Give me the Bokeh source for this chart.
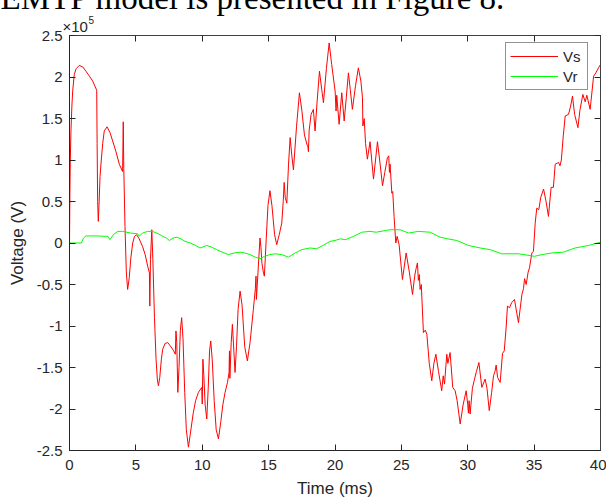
from bokeh.plotting import figure
from bokeh.models import (Legend, LegendItem, FixedTicker, LinearAxis, Range1d,
                          ColumnDataSource, CustomLabelingPolicy)
from bokeh.core.properties import value
from bokeh.embed import file_html
from bokeh.resources import INLINE

# ---------------- data (Voltage in units of 1e5 V, time in ms) ----------------
vs_t = [0.00, 0.03, 0.06, 0.11, 0.18, 0.24, 0.36, 0.50, 0.74, 1.00, 1.24, 1.50, 1.75, 2.05,
        2.08, 2.12, 2.17, 2.22, 2.30, 2.37, 2.50, 2.62, 2.83, 3.05, 3.25, 3.50, 3.75, 4.00,
        4.05, 4.09, 4.18, 4.28, 4.38, 4.50, 4.62, 4.76, 4.90, 5.05, 5.25, 5.50, 5.70, 5.89,
        6.02, 6.05, 6.10, 6.20, 6.28, 6.40, 6.52, 6.62, 6.70, 6.80, 6.92, 7.02, 7.20, 7.40,
        7.60, 7.85, 7.97, 8.02, 8.08, 8.16, 8.25, 8.35, 8.45, 8.55, 8.68, 8.80, 8.96, 9.10,
        9.33, 9.50, 9.71, 9.96, 10.00, 10.05, 10.12, 10.22, 10.34, 10.45, 10.55, 10.64, 10.75,
        10.90, 11.05, 11.22, 11.40, 11.55, 11.72, 11.90, 12.02, 12.05, 12.08, 12.18, 12.27,
        12.38, 12.47, 12.58, 12.70, 12.85, 13.00, 13.20, 13.40, 13.60, 13.85, 14.00, 14.05,
        14.08, 14.20, 14.35, 14.42, 14.50, 14.60, 14.68, 14.82, 14.95, 15.10, 15.25, 15.45,
        15.61, 15.80, 15.99, 16.10, 16.17, 16.25, 16.37, 16.50, 16.62, 16.75, 16.87, 17.10,
        17.32, 17.50, 17.70, 17.90, 17.95, 18.00, 18.05, 18.20, 18.37, 18.50, 18.65, 18.83,
        19.00, 19.13, 19.35, 19.56, 19.75, 20.01, 20.08, 20.13, 20.31, 20.51, 20.69, 20.85,
        21.01, 21.15, 21.31, 21.55, 21.76, 21.95, 22.07, 22.10, 22.20, 22.30, 22.44, 22.64,
        22.90, 23.20, 23.40, 23.58, 23.75, 23.95, 24.05, 24.10, 24.15, 24.28, 24.35, 24.45,
        24.58, 24.68, 24.83, 25.08, 25.36, 25.60, 25.84, 26.00, 26.09, 26.21, 26.28, 26.35,
        26.41, 26.50, 26.66, 26.80, 26.92, 27.10, 27.29, 27.45, 27.60, 27.80, 28.04, 28.15,
        28.25, 28.42, 28.50, 28.67, 28.87, 29.05, 29.20, 29.43, 29.65, 29.88, 30.00, 30.05,
        30.10, 30.18, 30.35, 30.51, 30.65, 30.84, 31.06, 31.31, 31.45, 31.62, 31.80, 31.94,
        32.05, 32.14, 32.25, 32.44, 32.62, 32.75, 32.90, 32.99, 33.15, 33.30, 33.52, 33.70,
        33.82, 34.08, 34.20, 34.28, 34.40, 34.55, 34.65, 34.83, 34.95, 35.08, 35.20, 35.35,
        35.50, 35.71, 35.90, 36.08, 36.28, 36.45, 36.59, 36.84, 36.95, 37.05, 37.20, 37.34,
        37.59, 37.75, 37.89, 38.05, 38.30, 38.45, 38.67, 38.85, 38.97, 39.22, 39.48, 39.65,
        39.85, 40.00]
vs_v = [0.00, 0.60, 1.00, 1.35, 1.65, 1.83, 2.03, 2.10, 2.14, 2.12, 2.07, 2.01, 1.95, 1.84,
        1.20, 0.50, 0.26, 0.45, 0.80, 0.95, 1.20, 1.35, 1.40, 1.33, 1.23, 1.10, 0.95, 0.86,
        1.46, 0.90, 0.20, -0.35, -0.56, -0.42, -0.18, 0.00, 0.08, 0.10, 0.05, -0.04, -0.14, -0.28,
        -0.36, -0.76, -0.20, 0.16, -0.20, -0.90, -1.40, -1.65, -1.72, -1.62, -1.40, -1.28, -1.21, -1.20,
        -1.24, -1.30, -1.34, -1.06, -1.20, -1.80, -1.50, -1.05, -0.90, -1.15, -1.80, -2.25, -2.46, -2.30,
        -2.04, -1.90, -1.80, -1.74, -1.94, -1.40, -1.60, -1.95, -2.12, -1.75, -1.30, -1.18, -1.40,
        -1.90, -2.25, -2.36, -2.15, -1.95, -1.80, -1.68, -1.56, -1.30, -1.63, -1.20, -0.98,
        -1.30, -1.56, -1.25, -0.80, -0.58, -0.75, -1.25, -1.42, -1.20, -0.80, -0.55, -0.40,
        -0.68, -0.35, 0.06, -0.05, -0.25, -0.35, -0.40, 0.05, 0.45, 0.63, 0.45, 0.10,
        -0.02, 0.10, 0.24, 0.50, 0.73, 0.55, 0.48, 0.95, 1.27, 1.05, 0.88, 1.40,
        1.81, 1.60, 1.30, 1.18, 1.17, 1.10, 1.35, 1.55, 1.61, 1.35, 1.70, 2.07,
        1.85, 1.69, 2.10, 2.41, 2.15, 1.83, 1.59, 1.78, 1.43, 1.81, 1.47, 1.75,
        2.05, 1.85, 1.61, 1.90, 2.11, 1.95, 1.75, 1.41, 1.50, 1.20, 1.01, 1.22,
        0.77, 1.22, 0.95, 0.69, 0.85, 1.03, 1.05, 0.85, 0.95, 0.60, 0.62, 0.32,
        0.00, 0.08, -0.02, -0.44, -0.12, -0.35, -0.62, -0.40, -0.32, -0.24, -0.45, -0.38,
        -0.56, -0.50, -1.08, -1.05, -1.10, -1.45, -1.66, -1.45, -1.34, -1.55, -1.78, -1.60,
        -1.70, -1.34, -1.45, -1.32, -1.74, -1.78, -1.90, -2.18, -1.95, -1.78, -1.95, -2.05,
        -1.90, -2.06, -1.75, -1.64, -1.55, -1.44, -1.74, -1.64, -1.75, -2.02, -1.80, -1.60,
        -1.55, -1.47, -1.62, -1.68, -1.33, -1.30, -1.00, -0.76, -0.78, -0.72, -0.68, -0.85,
        -0.96, -0.62, -0.55, -0.43, -0.50, -0.35, -0.30, -0.12, -0.10, 0.24, 0.42, 0.40,
        0.55, 0.65, 0.50, 0.32, 0.67, 0.67, 0.95, 0.97, 0.93, 1.00, 1.30, 1.53,
        1.55, 1.65, 1.77, 1.55, 1.39, 1.60, 1.79, 1.70, 1.78, 1.61, 2.01, 2.05,
        2.11, 2.15]

vr_t = [0.00, 0.90, 1.05, 1.24, 2.00, 2.90, 3.05, 3.30, 3.63, 4.00, 4.60, 5.14, 5.25, 5.50,
        5.89, 6.25, 6.70, 7.02, 7.30, 7.52, 7.80, 8.08, 8.40, 8.70, 9.10, 9.50, 9.83, 10.34,
        10.70, 11.09, 11.50, 11.97, 12.40, 12.85, 13.20, 13.60, 14.00, 14.35, 14.70, 15.10,
        15.49, 16.00, 16.49, 17.00, 17.50, 18.12, 18.60, 19.10, 19.63, 20.00, 20.39, 20.80,
        21.40, 22.02, 22.64, 23.10, 23.78, 24.15, 24.91, 25.54, 26.28, 27.17, 27.92, 28.50,
        29.18, 30.06, 30.94, 31.69, 32.57, 33.82, 35.03, 35.60, 36.33, 37.20, 38.09, 39.10,
        40.00]
vr_v = [0.00, 0.00, 0.06, 0.085, 0.085, 0.08, 0.04, 0.10, 0.14, 0.14, 0.12, 0.11, 0.08, 0.12,
        0.14, 0.14, 0.11, 0.08, 0.06, 0.03, 0.06, 0.07, 0.05, 0.02, 0.00, -0.03, -0.06, -0.03,
        -0.05, -0.08, -0.11, -0.14, -0.12, -0.11, -0.12, -0.14, -0.17, -0.19, -0.16, -0.14,
        -0.13, -0.14, -0.17, -0.12, -0.08, -0.06, -0.07, -0.03, 0.02, 0.03, 0.05, 0.04,
        0.08, 0.13, 0.14, 0.13, 0.15, 0.16, 0.16, 0.12, 0.14, 0.13, 0.07, 0.05,
        0.03, -0.03, -0.06, -0.08, -0.13, -0.13, -0.16, -0.14, -0.12, -0.11, -0.06, -0.03,
        0.01]

x_ticks = [0, 5, 10, 15, 20, 25, 30, 35, 40]
y_ticks = [-2.5, -2, -1.5, -1, -0.5, 0, 0.5, 1, 1.5, 2, 2.5]
y_tick_labels = ["-2.5", "-2", "-1.5", "-1", "-0.5", "0", "0.5", "1", "1.5", "2", "2.5"]
series_names = ["Vs", "Vr"]
x_label = "Time (ms)"
y_label = "Voltage (V)"
exp_base = "\u00d710"
exp_power = "5"
caption = "EMTP model is presented in Figure 8."

TXT = "#262626"
FONT = "Liberation Sans"
X0, X1, Y0, Y1 = 0, 40, -2.5, 2.5

p = figure(width=606, height=500, x_range=Range1d(X0, X1), y_range=Range1d(Y0, Y1),
           output_backend="svg", toolbar_location=None, title=None,
           min_border_left=69, min_border_right=6, min_border_top=35, min_border_bottom=48,
           background_fill_color="white", border_fill_color="white")
p.styles = {"position": "absolute", "left": "0px", "top": "0px"}
p.grid.visible = False
p.outline_line_color = "#404040"
p.outline_line_width = 1

xa = p.xaxis[0]
xa.ticker = FixedTicker(ticks=x_ticks)
xa.axis_label = x_label
ya = p.yaxis[0]
ya.ticker = FixedTicker(ticks=y_ticks)
ya.major_label_overrides = {t: l for t, l in zip(y_ticks, y_tick_labels)}
ya.axis_label = y_label

for ax in (xa, ya):
    ax.major_tick_in = 6
    ax.major_tick_out = 0
    ax.minor_tick_in = 0
    ax.minor_tick_out = 0
    ax.axis_line_color = TXT
    ax.major_tick_line_color = TXT
    ax.major_label_text_font = FONT
    ax.major_label_text_font_size = "15px"
    ax.major_label_text_color = TXT
    ax.axis_label_text_font = FONT
    ax.axis_label_text_font_size = "17px"
    ax.axis_label_text_font_style = "normal"
    ax.axis_label_text_color = TXT
xa.major_label_standoff = 9
xa.axis_label_standoff = 6
ya.major_label_standoff = 7
ya.axis_label_standoff = 7

# box ticks on the top and right sides, with no labels
no_labels = CustomLabelingPolicy(code="return []")
for ticks, side in ((x_ticks, "above"), (y_ticks, "right")):
    ax = LinearAxis(ticker=FixedTicker(ticks=ticks), major_tick_in=6, major_tick_out=0,
                    minor_tick_in=0, minor_tick_out=0, major_label_policy=no_labels,
                    major_label_text_font_size="0px", major_label_standoff=0,
                    axis_line_color="#404040", major_tick_line_color=TXT)
    p.add_layout(ax, side)

src_s = ColumnDataSource(dict(t=vs_t, v=vs_v))
src_r = ColumnDataSource(dict(t=vr_t, v=vr_v))
r_s = p.line("t", "v", source=src_s, line_color="#FF0000", line_width=1)
r_r = p.line("t", "v", source=src_r, line_color="#00FF00", line_width=1)

legend = Legend(items=[LegendItem(label=series_names[0], renderers=[r_s]),
                       LegendItem(label=series_names[1], renderers=[r_r])],
                location=(436, 360), margin=0, padding=4, spacing=2,
                glyph_width=48, glyph_height=18, label_height=18, label_standoff=5,
                label_text_font=FONT, label_text_font_size="15px", label_text_color=TXT,
                border_line_color=TXT, border_line_width=1,
                background_fill_color="white", background_fill_alpha=1)
p.add_layout(legend, "center")

# texts outside the frame: anchored at the frame's top-left corner, offset in pixels,
# drawn on the unclipped overlay level
corner = ColumnDataSource(dict(x=[X0], y=[Y1], a=[exp_base], b=[exp_power], c=[caption]))
p.text(x="x", y="y", text="a", source=corner, x_offset=-7, y_offset=-9,
       text_font=value(FONT), text_font_size="15px", text_color=TXT,
       text_baseline="alphabetic", level="overlay")
p.text(x="x", y="y", text="b", source=corner, x_offset=19, y_offset=-16,
       text_font=value(FONT), text_font_size="10px", text_color=TXT,
       text_baseline="alphabetic", level="overlay")
p.text(x="x", y="y", text="c", source=corner, x_offset=-69, y_offset=-38,
       text_font=value("Liberation Serif"), text_font_size="33px", text_color="black",
       text_baseline="alphabetic", level="overlay")

open("out.html", "w").write(file_html(p, INLINE))
